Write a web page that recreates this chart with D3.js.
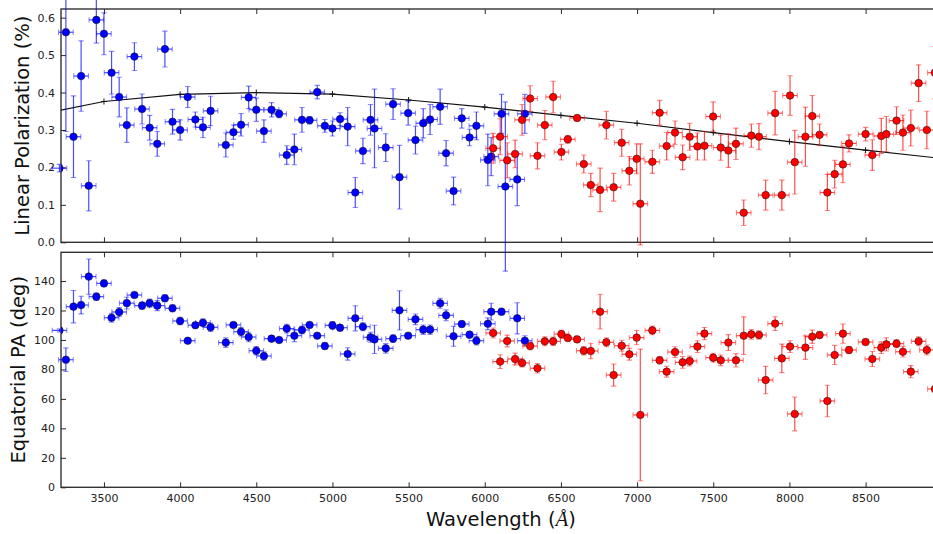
<!DOCTYPE html>
<html><head><meta charset="utf-8">
<script src="https://cdn.jsdelivr.net/npm/d3@7"></script>
<style>
html,body{margin:0;padding:0;background:#fff;}
svg{display:block;font-family:"DejaVu Sans",sans-serif;}
</style></head>
<body>
<svg id="chart" width="933" height="534"></svg>
<script>
// ---------------- DATA ----------------
const blueWave = [3208,3250,3300,3350,3400,3450,3500,3550,3600,3650,3700,3750,3800,3850,3900,3950,4000,4050,4100,4150,4200,4300,4350,4400,4450,4500,4550,4600,4650,4700,4750,4800,4850,4900,4950,5000,5050,5100,5150,5200,5250,5276,5350,5398,5440,5497,5545,5596,5641,5707,5746,5795,5849,5900,5945,6020,6042,6110,6135,6213,6263];
const bluePol = [0.198,0.561,0.282,0.444,0.151,0.594,0.557,0.453,0.388,0.313,0.496,0.356,0.306,0.263,0.516,0.322,0.300,0.388,0.328,0.307,0.351,0.260,0.294,0.314,0.387,0.354,0.297,0.354,0.343,0.233,0.248,0.327,0.326,0.401,0.311,0.304,0.329,0.309,0.133,0.244,0.327,0.304,0.253,0.369,0.174,0.345,0.273,0.318,0.328,0.362,0.238,0.137,0.331,0.280,0.311,0.220,0.229,0.343,0.149,0.168,0.343];
const bluePolErr = [0.010,0.265,0.109,0.094,0.067,0.062,0.056,0.057,0.053,0.046,0.037,0.040,0.033,0.033,0.048,0.033,0.027,0.028,0.020,0.027,0.039,0.032,0.019,0.030,0.030,0.031,0.030,0.019,0.010,0.025,0.041,0.033,0.010,0.018,0.017,0.020,0.017,0.051,0.040,0.034,0.041,0.105,0.037,0.041,0.085,0.032,0.037,0.039,0.040,0.047,0.034,0.037,0.026,0.022,0.037,0.069,0.051,0.052,0.226,0.070,0.052];
const bluePA = [106.5,86.6,122.6,123.7,143,129.4,138.4,115.1,119,125,130.5,123.3,125,123.3,128.3,121.5,112.9,99.5,110,111.7,108.6,98.2,110.2,105.6,102,92.7,89.1,100.9,100,107.7,102.9,106.8,110.2,102.9,95.9,109.9,108.3,90.5,114.7,109,101.8,100.4,94.3,100.9,120.1,102.9,114,107,107,124.9,116.7,102.5,110.8,103.6,99.5,111,119.2,119.2,null,114.7,99.5];
const bluePAErr = [1,8,11,6,12,2.5,2.3,3,3,4,1.5,2.4,2.7,3.4,2.3,2.3,2.5,1.5,1.7,2.6,2.8,3.2,1.7,2.8,3.2,2.8,2.8,1.9,1.1,3,4,2.5,1.8,1.7,2.3,2.6,2.2,4.2,8.5,2.7,3.4,9.6,3.2,2.6,13.3,1.7,3.6,3.2,3.2,3.4,3.7,6.8,2.1,2,2.8,4,5.7,2.3,null,10.6,3.4];

const redWave = [6055,6101,6147,6199,6245,6298,6346,6394,6449,6503,6545,6606,6650,6696,6757,6798,6846,6899,6949,6997,7021,7100,7148,7194,7249,7299,7345,7396,7442,7499,7549,7599,7649,7700,7750,7800,7844,7906,7950,8004,8035,8105,8150,8198,8249,8297,8351,8391,8500,8544,8603,8636,8703,8745,8797,8848,8902,8955];
const redPol = [0.251,0.282,0.219,0.236,0.327,0.384,0.231,0.313,0.388,0.241,0.275,0.332,0.209,0.153,0.140,0.313,0.147,0.266,0.191,0.223,0.103,0.215,0.346,0.257,0.293,0.227,0.282,0.256,0.258,0.336,0.253,0.245,0.263,0.079,0.285,0.282,0.126,0.345,0.126,0.392,0.214,0.282,0.337,0.287,0.133,0.182,0.208,0.264,0.289,0.233,0.284,0.289,0.325,0.293,0.305,0.425,0.300,0.453];
const redPolErr = [0.040,0.048,0.047,0.037,0.041,0.034,0.035,0.039,0.042,0.021,0.010,0.008,0.024,0.031,0.058,0.037,0.037,0.036,0.038,0.040,0.160,0.031,0.033,0.037,0.031,0.033,0.036,0.036,0.038,0.039,0.034,0.045,0.042,0.034,0.031,0.035,0.040,0.058,0.040,0.053,0.085,0.079,0.055,0.029,0.048,0.037,0.049,0.023,0.018,0.041,0.047,0.047,0.037,0.047,0.048,0.049,0.050,0.070];
const redPolErrLowOverride = {7021: 0.11};
const redPA = [104.7,85.3,99.3,87.1,84.4,95.9,80.8,99.1,99.1,104,101.3,100.4,92.7,92.5,119.2,98.4,76.2,96.1,90.3,101.6,49.1,106.5,86.2,78.5,91.8,84.8,85.7,95.5,104.3,88,86.2,98.2,86.2,102.9,103.8,103.4,72.8,111.1,87.5,95.5,49.8,94.8,102.2,103.4,58.6,89.8,104.3,93.2,98.6,87.1,94.8,97,97.5,92,78.5,99.1,93.2,66.7];
const redPAErr = [3.4,4.7,4,4,2.7,2.5,3.2,3,2.8,2.6,2,1.7,2.8,5.3,11.8,3,7.5,3.7,4,4.8,44.7,3,2.5,3.7,3.6,4,3.3,4,4.2,3,3.6,5.4,4.5,12.8,3.2,2.8,9.3,4.7,9.7,4,11.5,8,4.5,2.3,10.7,6.5,6.5,2.3,1.9,5.1,4,4.5,2.8,3.6,4.1,3,3.4,2];

const waveErr = 48;

const modelWave = [3000,3500,4000,4500,5000,5500,6000,6500,7000,7500,8000,8500,9000];
const modelPol = [0.335,0.376,0.395,0.400,0.396,0.380,0.361,0.339,0.318,0.293,0.269,0.246,0.224];

const xTicks = [3500,4000,4500,5000,5500,6000,6500,7000,7500,8000,8500];
const polTicks = [0.0,0.1,0.2,0.3,0.4,0.5,0.6];
const paTicks = [0,20,40,60,80,100,120,140];

// ---------------- LAYOUT ----------------
const L = 61, R = 941;
const topP = {t: 9, b: 242.3};
const botP = {t: 252.3, b: 487.3};

const svg = d3.select("#chart");
const x = d3.scaleLinear().domain([3218, 8995]).range([L, R]);
const yTop = d3.scaleLinear().domain([0, 0.6231]).range([topP.b, topP.t]);
const yBot = d3.scaleLinear().domain([0, 159.5]).range([botP.b, botP.t]);

const defs = svg.append("defs");
defs.append("clipPath").attr("id","clipTop").append("rect")
  .attr("x",L).attr("y",topP.t).attr("width",R-L).attr("height",topP.b-topP.t);
defs.append("clipPath").attr("id","clipBot").append("rect")
  .attr("x",L).attr("y",botP.t).attr("width",R-L).attr("height",botP.b-botP.t);

function drawAxes(y, P, ticks, fmt, showX) {
  const g = svg.append("g");
  g.append("rect").attr("x",L).attr("y",P.t).attr("width",R-L).attr("height",P.b-P.t)
    .attr("fill","none").attr("stroke","#333").attr("stroke-width",1.4);
  const ax1 = g.append("g").attr("transform",`translate(0,${P.b})`)
    .call(d3.axisBottom(x).tickValues(xTicks).tickSize(-5).tickSizeOuter(0).tickPadding(6.5)
      .tickFormat(showX ? d3.format("d") : ""));
  const ax2 = g.append("g").attr("transform",`translate(0,${P.t})`)
    .call(d3.axisTop(x).tickValues(xTicks).tickSize(-5).tickSizeOuter(0).tickFormat(""));
  const ax3 = g.append("g").attr("transform",`translate(${L},0)`)
    .call(d3.axisLeft(y).tickValues(ticks).tickSize(-5).tickSizeOuter(0).tickPadding(6).tickFormat(fmt));
  [ax1,ax2,ax3].forEach(a=>{
    a.select(".domain").remove();
    a.selectAll(".tick line").attr("stroke","#2a2a2a").attr("stroke-width",1);
    a.selectAll(".tick text").attr("fill","#222").attr("font-size","11px")
      .attr("font-family","DejaVu Sans, sans-serif");
  });
}

drawAxes(yTop, topP, polTicks, d3.format(".1f"), false);
drawAxes(yBot, botP, paTicks, d3.format("d"), true);

// model curve
const gm = svg.append("g").attr("clip-path","url(#clipTop)");
const modelData = modelWave.map((w,i)=>({w, v:modelPol[i]}));
gm.append("path").datum(modelData)
  .attr("d", d3.line().x(d=>x(d.w)).y(d=>yTop(d.v)))
  .attr("fill","none").attr("stroke","#111").attr("stroke-width",1.2);
gm.selectAll("path.plus").data(modelData).enter().append("path").attr("class","plus")
  .attr("d", d=>`M${x(d.w)-3},${yTop(d.v)}h6M${x(d.w)},${yTop(d.v)-3}v6`)
  .attr("stroke","#111").attr("stroke-width",1);

function drawSeries(waves, vals, errs, y, clip, color, lowOverride) {
  const data = waves.map((w,i)=>({w, v:vals[i], e:errs[i],
      lo: (lowOverride && lowOverride[w] !== undefined) ? lowOverride[w] : errs[i]}))
    .filter(d=>d.v !== null);
  const cap = 2.7;
  const ge = svg.append("g");
  data.forEach(d=>{
    const cx = x(d.w), cy = y(d.v);
    const y1 = y(d.v + d.e), y2 = y(d.v - d.lo);
    const x1 = x(d.w - waveErr), x2 = x(d.w + waveErr);
    ge.append("line").attr("x1",cx).attr("x2",cx).attr("y1",y1).attr("y2",y2)
      .attr("stroke",color).attr("stroke-opacity",0.7).attr("stroke-width",1.2);
    ge.append("line").attr("x1",x1).attr("x2",x2).attr("y1",cy).attr("y2",cy)
      .attr("stroke",color).attr("stroke-opacity",0.7).attr("stroke-width",1.2);
    ge.append("path")
      .attr("d",`M${cx-cap},${y1}h${2*cap}M${cx-cap},${y2}h${2*cap}M${x1},${cy-cap}v${2*cap}M${x2},${cy-cap}v${2*cap}`)
      .attr("stroke",color).attr("stroke-opacity",0.45).attr("stroke-width",1.1).attr("fill","none");
  });
  svg.append("g").attr("clip-path",`url(#${clip})`)
    .selectAll("circle").data(data).enter().append("circle")
    .attr("cx",d=>x(d.w)).attr("cy",d=>y(d.v)).attr("r",3.8)
    .attr("fill",color).attr("stroke","#111").attr("stroke-width",0.5);
}

drawSeries(blueWave, bluePol, bluePolErr, yTop, "clipTop", "#0000ff");
drawSeries(redWave, redPol, redPolErr, yTop, "clipTop", "#ff0000", redPolErrLowOverride);
drawSeries(blueWave, bluePA, bluePAErr, yBot, "clipBot", "#0000ff");
drawSeries(redWave, redPA, redPAErr, yBot, "clipBot", "#ff0000");

// axis labels
svg.append("text").attr("transform",`translate(29,${(topP.t+topP.b)/2}) rotate(-90)`)
  .attr("text-anchor","middle").attr("font-size","19.5px").attr("fill","#111")
  .text("Linear Polarization (%)");
svg.append("text").attr("transform",`translate(24.5,${(botP.t+botP.b)/2}) rotate(-90)`)
  .attr("text-anchor","middle").attr("font-size","19.5px").attr("fill","#111")
  .text("Equatorial PA (deg)");
const xl = svg.append("text").attr("x",(L+R)/2).attr("y",526)
  .attr("text-anchor","middle").attr("font-size","19.5px").attr("fill","#111");
xl.append("tspan").text("Wavelength (");
xl.append("tspan").attr("font-family","Liberation Serif, DejaVu Serif, serif").attr("font-style","italic").attr("font-size","21px").text("Å");
xl.append("tspan").text(")");
</script>
</body></html>
